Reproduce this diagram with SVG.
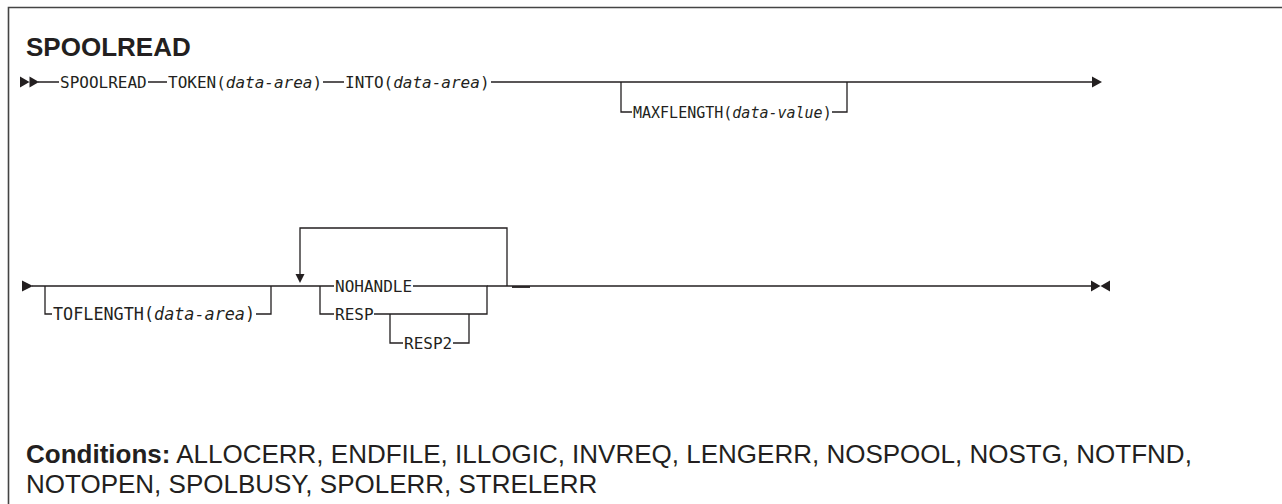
<svg xmlns="http://www.w3.org/2000/svg" width="1282" height="504" viewBox="0 0 1282 504">
<style>
.ln{fill:none;stroke:#231f20;stroke-width:1.3}
.fr{fill:none;stroke:#444;stroke-width:1.6}
.ah{fill:#231f20;stroke:none}
.kw{font-family:"DejaVu Sans Mono","Liberation Mono",monospace;font-size:16px;fill:#231f20}
.it{font-style:italic}
.ttl{font-family:"Liberation Sans",Arial,sans-serif;font-weight:bold;font-size:26px;fill:#231f20}
.cond{font-family:"Liberation Sans",Arial,sans-serif;font-size:26px;fill:#231f20}
</style>
<rect width="1282" height="504" fill="#fff"/>
<g id="frame">
<path class="fr" d="M8.5,504 V7.5 H1282"/>
</g>
<g id="title"><text class="ttl" x="26" y="56">SPOOLREAD</text></g>
<g id="connectors">
<path class="ah" d="M20,76.5 L29.5,82 L20,87.5 Z M29.5,76.5 L39,82 L29.5,87.5 Z"/>
<path class="ln" d="M38,82 H59 M148,82 H167 M323,82 H344 M491,82 H1094"/>
<path class="ah" d="M1092,76.5 L1102,82 L1092,87.5 Z"/>
<path class="ln" d="M621,82 V112 H632 M832,112 H847 V82"/>
<path class="ah" d="M22,280.5 L33,286 L22,291.5 Z"/>
<path class="ln" d="M32,286 H320 M45,286 V314 H52 M256,314 H271 V286"/>
<path class="ln" d="M507,286 V228 H300 V275"/>
<path class="ah" d="M295.5,274 L304.5,274 L300,283 Z"/>
<path class="ln" d="M320,286 V314 H334 M320,286 H334 M413,286 H487 V314 H374 M390,314 V343 H403 M453,343 H469 V314"/>
<path class="ln" d="M487,286 H1094"/>
<path class="ln" style="stroke-width:1.8" d="M512,287 H530"/>
<path class="ah" d="M1091,280.5 L1100.5,286 L1091,291.5 Z M1110,280.5 L1100.5,286 L1110,291.5 Z"/>
</g>
<g id="n-spoolread"><text class="kw" x="60" y="88">SPOOLREAD</text></g>
<g id="n-token"><text class="kw" x="168" y="88">TOKEN(<tspan class="it">data-area</tspan>)</text></g>
<g id="n-into"><text class="kw" x="345" y="88">INTO(<tspan class="it">data-area</tspan>)</text></g>
<g id="n-maxflength"><text class="kw" x="633" y="117.5" style="font-size:15px">MAXFLENGTH(<tspan class="it">data-value</tspan>)</text></g>
<g id="n-toflength"><text class="kw" x="53" y="320" style="font-size:16.8px">TOFLENGTH(<tspan class="it">data-area</tspan>)</text></g>
<g id="n-nohandle"><text class="kw" x="335" y="292">NOHANDLE</text></g>
<g id="n-resp"><text class="kw" x="335" y="320">RESP</text></g>
<g id="n-resp2"><text class="kw" x="404" y="349">RESP2</text></g>
<g id="conditions">
<text class="cond" x="26" y="463"><tspan font-weight="bold">Conditions:</tspan> ALLOCERR, ENDFILE, ILLOGIC, INVREQ, LENGERR, NOSPOOL, NOSTG, NOTFND,</text>
<text class="cond" x="26" y="493">NOTOPEN, SPOLBUSY, SPOLERR, STRELERR</text>
</g>
</svg>
